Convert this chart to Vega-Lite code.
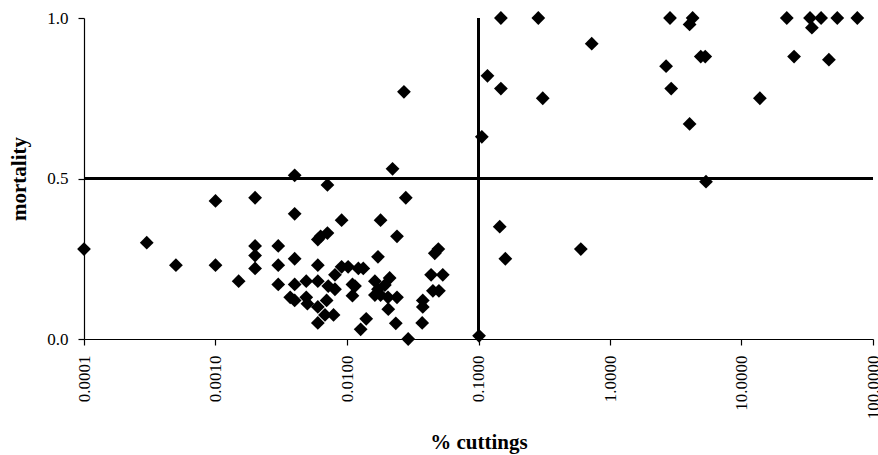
{
  "$schema": "https://vega.github.io/schema/vega-lite/v6.json",
  "autosize": {"type": "none"},
  "width": 789,
  "height": 321,
  "padding": {"left": 84, "top": 18, "right": 5, "bottom": 116},
  "background": "white",
  "config": {
    "view": {"stroke": null},
    "font": "Liberation Serif",
    "axis": {"grid": false, "domainColor": "#000", "tickColor": "#000", "labelColor": "#000", "titleColor": "#000", "labelFont": "Liberation Serif", "titleFont": "Liberation Serif", "labelFontSize": 17, "titleFontSize": 21, "titleFontWeight": "bold", "tickSize": 6, "domainWidth": 1.2, "tickWidth": 1.2}
  },
  "data": {
    "values": [
      {"pct": 0.0001, "mortality": 0.28},
      {"pct": 0.0003, "mortality": 0.30},
      {"pct": 0.0005, "mortality": 0.23},
      {"pct": 0.001, "mortality": 0.43},
      {"pct": 0.001, "mortality": 0.23},
      {"pct": 0.0015, "mortality": 0.18},
      {"pct": 0.002, "mortality": 0.44},
      {"pct": 0.002, "mortality": 0.29},
      {"pct": 0.002, "mortality": 0.26},
      {"pct": 0.002, "mortality": 0.22},
      {"pct": 0.003, "mortality": 0.29},
      {"pct": 0.003, "mortality": 0.23},
      {"pct": 0.003, "mortality": 0.17},
      {"pct": 0.004, "mortality": 0.51},
      {"pct": 0.004, "mortality": 0.39},
      {"pct": 0.004, "mortality": 0.25},
      {"pct": 0.004, "mortality": 0.17},
      {"pct": 0.0037, "mortality": 0.13},
      {"pct": 0.004, "mortality": 0.12},
      {"pct": 0.0049, "mortality": 0.18},
      {"pct": 0.0049, "mortality": 0.13},
      {"pct": 0.005, "mortality": 0.11},
      {"pct": 0.006, "mortality": 0.23},
      {"pct": 0.006, "mortality": 0.18},
      {"pct": 0.006, "mortality": 0.10},
      {"pct": 0.006, "mortality": 0.05},
      {"pct": 0.006, "mortality": 0.31},
      {"pct": 0.0063, "mortality": 0.32},
      {"pct": 0.0071, "mortality": 0.33},
      {"pct": 0.0071, "mortality": 0.48},
      {"pct": 0.0068, "mortality": 0.075},
      {"pct": 0.0079, "mortality": 0.075},
      {"pct": 0.0070, "mortality": 0.12},
      {"pct": 0.0072, "mortality": 0.165},
      {"pct": 0.0081, "mortality": 0.155},
      {"pct": 0.0081, "mortality": 0.20},
      {"pct": 0.0091, "mortality": 0.37},
      {"pct": 0.0091, "mortality": 0.225},
      {"pct": 0.0102, "mortality": 0.225},
      {"pct": 0.011, "mortality": 0.17},
      {"pct": 0.0115, "mortality": 0.165},
      {"pct": 0.011, "mortality": 0.135},
      {"pct": 0.0122, "mortality": 0.22},
      {"pct": 0.0133, "mortality": 0.22},
      {"pct": 0.014, "mortality": 0.063},
      {"pct": 0.0127, "mortality": 0.03},
      {"pct": 0.0163, "mortality": 0.18},
      {"pct": 0.0172, "mortality": 0.155},
      {"pct": 0.0194, "mortality": 0.168},
      {"pct": 0.0163, "mortality": 0.137},
      {"pct": 0.018, "mortality": 0.137},
      {"pct": 0.0205, "mortality": 0.13},
      {"pct": 0.024, "mortality": 0.13},
      {"pct": 0.0172, "mortality": 0.256},
      {"pct": 0.018, "mortality": 0.37},
      {"pct": 0.0211, "mortality": 0.19},
      {"pct": 0.0206, "mortality": 0.093},
      {"pct": 0.0222, "mortality": 0.53},
      {"pct": 0.024, "mortality": 0.32},
      {"pct": 0.0235, "mortality": 0.049},
      {"pct": 0.0271, "mortality": 0.77},
      {"pct": 0.028, "mortality": 0.44},
      {"pct": 0.0292, "mortality": 0.0},
      {"pct": 0.0495, "mortality": 0.28},
      {"pct": 0.0465, "mortality": 0.267},
      {"pct": 0.0436, "mortality": 0.20},
      {"pct": 0.0535, "mortality": 0.20},
      {"pct": 0.045, "mortality": 0.15},
      {"pct": 0.050, "mortality": 0.15},
      {"pct": 0.0377, "mortality": 0.12},
      {"pct": 0.0377, "mortality": 0.10},
      {"pct": 0.0373, "mortality": 0.05},
      {"pct": 0.101, "mortality": 0.01},
      {"pct": 0.106, "mortality": 0.63},
      {"pct": 0.117, "mortality": 0.82},
      {"pct": 0.148, "mortality": 1.0},
      {"pct": 0.148, "mortality": 0.78},
      {"pct": 0.145, "mortality": 0.35},
      {"pct": 0.16, "mortality": 0.25},
      {"pct": 0.285, "mortality": 1.0},
      {"pct": 0.308, "mortality": 0.75},
      {"pct": 0.60, "mortality": 0.28},
      {"pct": 0.726, "mortality": 0.92},
      {"pct": 2.67, "mortality": 0.85},
      {"pct": 2.86, "mortality": 1.0},
      {"pct": 2.92, "mortality": 0.78},
      {"pct": 4.03, "mortality": 0.98},
      {"pct": 4.25, "mortality": 1.0},
      {"pct": 4.03, "mortality": 0.67},
      {"pct": 4.9, "mortality": 0.88},
      {"pct": 5.3, "mortality": 0.88},
      {"pct": 5.37, "mortality": 0.49},
      {"pct": 13.8, "mortality": 0.75},
      {"pct": 22.1, "mortality": 1.0},
      {"pct": 25.1, "mortality": 0.88},
      {"pct": 33.2, "mortality": 1.0},
      {"pct": 34.3, "mortality": 0.97},
      {"pct": 40.3, "mortality": 1.0},
      {"pct": 46.2, "mortality": 0.87},
      {"pct": 53.5, "mortality": 1.0},
      {"pct": 76, "mortality": 1.0}
    ]
  },
  "layer": [
    {
      "mark": {"type": "rule", "color": "#000", "strokeWidth": 1.6},
      "encoding": {"x": {"datum": 0.1, "type": "quantitative"}}
    },
    {
      "mark": {"type": "rule", "color": "#000", "strokeWidth": 1.6},
      "encoding": {"y": {"datum": 0.5, "type": "quantitative"}}
    },
    {
      "mark": {"type": "point", "shape": "diamond", "filled": true, "color": "#000", "opacity": 1, "size": 190},
      "encoding": {
        "x": {
          "field": "pct", "type": "quantitative",
          "scale": {"type": "log", "domain": [0.0001, 100], "nice": false},
          "axis": {"title": "% cuttings", "values": [0.0001, 0.001, 0.01, 0.1, 1, 10, 100], "format": ".4f", "labelAngle": 270, "labelAlign": "right", "labelBaseline": "middle", "labelPadding": 10, "titleY": 109, "titleBaseline": "alphabetic", "labelOverlap": false, "labelFlush": false}
        },
        "y": {
          "field": "mortality", "type": "quantitative",
          "scale": {"domain": [0, 1], "nice": false, "zero": false},
          "axis": {"title": "mortality", "values": [0, 0.5, 1], "format": ".1f", "labelPadding": 10, "titleX": -59, "titleBaseline": "alphabetic", "titleAngle": 270, "labelFlush": false}
        }
      }
    }
  ]
}
